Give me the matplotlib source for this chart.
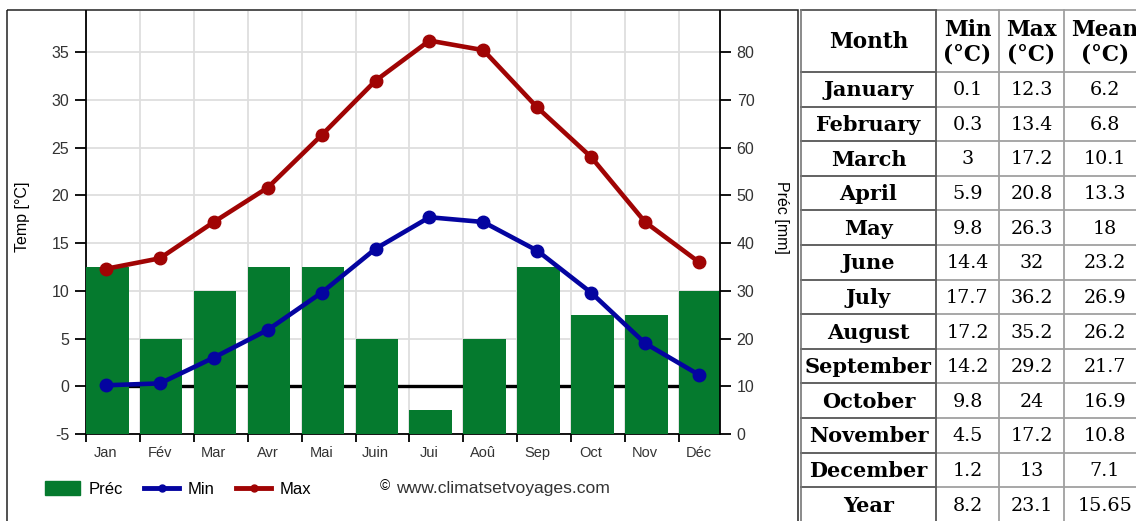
import matplotlib
matplotlib.use('Agg')
import matplotlib.pyplot as plt
import numpy as np
from matplotlib.lines import Line2D
from matplotlib.patches import Patch, Rectangle

# ---------------- data ----------------
months_short = ['Jan', 'Fév', 'Mar', 'Avr', 'Mai', 'Juin', 'Jui', 'Aoû', 'Sep', 'Oct', 'Nov', 'Déc']
months_full = ['January', 'February', 'March', 'April', 'May', 'June', 'July',
               'August', 'September', 'October', 'November', 'December']
t_min = [0.1, 0.3, 3, 5.9, 9.8, 14.4, 17.7, 17.2, 14.2, 9.8, 4.5, 1.2]
t_max = [12.3, 13.4, 17.2, 20.8, 26.3, 32, 36.2, 35.2, 29.2, 24, 17.2, 13]
t_mean = [6.2, 6.8, 10.1, 13.3, 18, 23.2, 26.9, 26.2, 21.7, 16.9, 10.8, 7.1]
precip = [35, 20, 30, 35, 35, 20, 5, 20, 35, 25, 25, 30]
year_label = 'Year'
year_vals = [8.2, 23.1, 15.65]
temp_ticks = [-5, 0, 5, 10, 15, 20, 25, 30, 35]
precip_ticks = [0, 10, 20, 30, 40, 50, 60, 70, 80]
table_header = ['Month', 'Min\n(°C)', 'Max\n(°C)', 'Mean\n(°C)']

# ---------------- style ----------------
W, H = 1136, 521
RED = '#a00404'
BLUE = '#0404a0'
GREEN = '#057a2e'
GRID = '#dedede'
TXT = '#333333'
plt.rcParams['font.family'] = ['Liberation Sans', 'DejaVu Sans']
plt.rcParams['axes.unicode_minus'] = False

fig = plt.figure(figsize=(W / 100, H / 100), dpi=100)
fig.patch.set_facecolor('white')

def px_rect(x0, y0, x1, y1):
    return [x0 / W, 1 - y1 / H, (x1 - x0) / W, (y1 - y0) / H]

edge = 0.371
x = np.arange(len(months_short))
t_lo, t_hi = -5, 39.3

# temperature axis (grid, zero line, left ticks)
ax_t = fig.add_axes(px_rect(86, 11, 720, 434))
ax_t.set_xlim(-edge, 11.39)
ax_t.set_ylim(t_lo, t_hi)
ax_t.set_xticks(x)
ax_t.set_xticklabels(months_short)
ax_t.set_xticks(x - edge, minor=True)
ax_t.set_yticks(temp_ticks)
ax_t.tick_params(axis='x', which='major', length=0, pad=8.5, labelsize=10.5, labelcolor=TXT)
ax_t.tick_params(axis='x', which='minor', length=6, width=1.3, direction='out')
ax_t.tick_params(axis='y', length=8, width=1.3, pad=4, labelsize=11.5, labelcolor=TXT)
ax_t.grid(which='minor', axis='x', color=GRID, lw=1.3)
ax_t.grid(which='major', axis='y', color=GRID, lw=1.3)
ax_t.set_axisbelow(True)
ax_t.axhline(0, color='black', lw=2.4, zorder=1)
for s in ['top', 'right']:
    ax_t.spines[s].set_visible(False)
for s in ['left', 'bottom']:
    ax_t.spines[s].set_linewidth(1.3)
    ax_t.spines[s].set_color('black')

# precipitation axis (bars, right ticks)
ax_p = ax_t.twinx()
ax_p.set_ylim(0, 2 * (t_hi - t_lo))
ax_p.set_yticks(precip_ticks)
ax_p.bar(x - edge, precip, width=0.79, align='edge', color=GREEN, zorder=2)
ax_p.tick_params(axis='y', length=8, width=1.3, pad=4, labelsize=11.5, labelcolor=TXT)
for s in ['top', 'left', 'bottom']:
    ax_p.spines[s].set_visible(False)
ax_p.spines['right'].set_linewidth(1.3)
ax_p.spines['right'].set_color('black')

# lines on top
ax_l = fig.add_axes(px_rect(86, 11, 720, 434), sharex=ax_t, sharey=ax_t)
ax_l.axis('off')
ax_l.set_zorder(ax_p.get_zorder() + 1)
ax_l.plot(x, t_max, color=RED, lw=3.3, marker='o', ms=9, clip_on=False)
ax_l.plot(x, t_min, color=BLUE, lw=3.3, marker='o', ms=9, clip_on=False)

fig.text(22 / W, 1 - 217 / H, 'Temp [°C]', rotation=90, ha='center', va='center',
         fontsize=11.5, color='black')
fig.text(781 / W, 1 - 217 / H, 'Préc [mm]', rotation=270, ha='center', va='center',
         fontsize=11.5, color='black')

# legend
handles = [Patch(facecolor=GREEN, edgecolor=GREEN),
           Line2D([], [], color=BLUE, lw=3.5, marker='o', ms=5),
           Line2D([], [], color=RED, lw=3.5, marker='o', ms=5)]
fig.legend(handles, ['Préc', 'Min', 'Max'], loc='center left',
           bbox_to_anchor=(45 / W, 1 - 489 / H), ncol=3, frameon=False,
           borderaxespad=0, borderpad=0, fontsize=12, handlelength=2.1,
           handleheight=0.85, handletextpad=0.5, columnspacing=1.3)
fig.text(380 / W, 1 - 486 / H, '©', fontsize=10, ha='left', va='center', color='black')
fig.text(396 / W, 1 - 489 / H, 'www.climatsetvoyages.com', fontsize=12.6, ha='left',
         va='center', color=TXT)

# ---------------- frame and table ----------------
ax_o = fig.add_axes([0, 0, 1, 1])
ax_o.set_xlim(0, W)
ax_o.set_ylim(H, 0)
ax_o.axis('off')
ax_o.set_zorder(-1)
ax_o.add_patch(Rectangle((7, 10), 790.7, 530, fill=False, ec='#222222', lw=1.1))

col_edges = [801, 936, 999, 1064, 1146]
row_top, head_h, row_h = 10, 62, 34.6
n_rows = len(months_full) + 1
row_edges = [row_top] + [row_top + head_h + k * row_h for k in range(n_rows + 1)]
DARK, LIGHT = '#555555', '#a0a0a0'
for yy in row_edges:
    ax_o.plot([col_edges[0], col_edges[1]], [yy, yy], color=DARK, lw=1.3)
    ax_o.plot([col_edges[1], col_edges[-1]], [yy, yy], color=LIGHT, lw=1.3)
ax_o.plot([col_edges[0], col_edges[0]], [row_top, H + 5], color='#777777', lw=1.2)
ax_o.plot([col_edges[1], col_edges[1]], [row_top, H + 5], color=DARK, lw=1.3)
for xx in col_edges[2:4]:
    ax_o.plot([xx, xx], [row_top, H + 5], color=LIGHT, lw=1.3)

centers = [(col_edges[i] + col_edges[i + 1]) / 2 for i in range(4)]
serif = ['DejaVu Serif']
head_y = row_top + head_h / 2
for c, lab in zip(centers, table_header):
    ax_o.text(c, head_y + 1, lab, ha='center', va='center', fontsize=15.5,
              fontweight='bold', family=serif, linespacing=1.12)
rows = [(m, (a, b, c)) for m, a, b, c in zip(months_full, t_min, t_max, t_mean)]
rows.append((year_label, tuple(year_vals)))
for k, (name, vals) in enumerate(rows):
    yc = row_edges[k + 1] + row_h / 2 + 1
    ax_o.text(centers[0], yc, name, ha='center', va='center', fontsize=15,
              fontweight='bold', family=serif)
    for c, v in zip(centers[1:], vals):
        ax_o.text(c, yc, f'{v:g}', ha='center', va='center', fontsize=13.8, family=serif)

fig.savefig('out.png', dpi=100, facecolor='white')
